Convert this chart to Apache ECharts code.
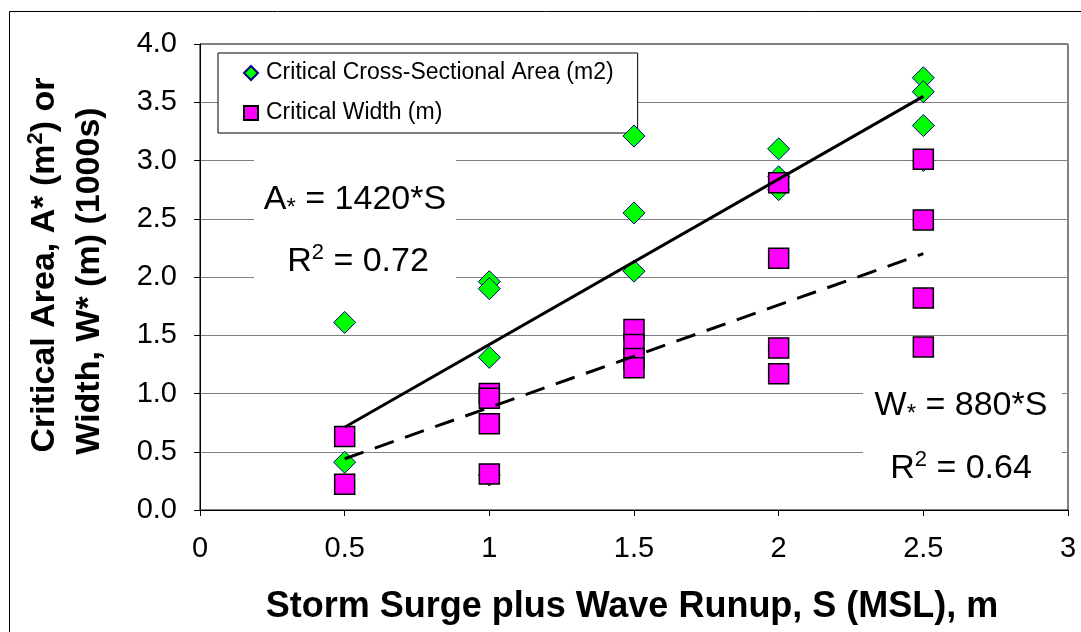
<!DOCTYPE html>
<html>
<head>
<meta charset="utf-8">
<script src="https://cdn.jsdelivr.net/npm/echarts@6/dist/echarts.min.js"></script>
<style>
  html, body { margin: 0; padding: 0; background: #fff; }
  #chart { width: 1081px; height: 632px; }
</style>
</head>
<body>
<div id="chart"></div>
<script>
// Storm surge plus wave runup S (m) against critical area / width, values in 1000s
const areaS = [0.5, 0.5, 1, 1, 1, 1, 1.5, 1.5, 1.5, 2, 2, 2, 2.5, 2.5, 2.5, 2.5];
const areaK = [1.61, 0.41, 1.96, 1.90, 1.31, 0.30, 3.21, 2.55, 2.05, 3.10, 2.86, 2.75, 3.71, 3.59, 3.30, 3.00];
const widthS = [0.5, 0.5, 1, 1, 1, 1, 1.5, 1.5, 1.5, 1.5, 2, 2, 2, 2, 2.5, 2.5, 2.5, 2.5];
const widthK = [0.63, 0.22, 1.00, 0.96, 0.74, 0.31, 1.55, 1.42, 1.30, 1.22, 2.81, 2.16, 1.39, 1.17, 3.01, 2.49, 1.82, 1.40];

// Fits through the origin (per metre of S) and their R^2
const areaSlope = 1420, areaR2 = 0.72;
const widthSlope = 880, widthR2 = 0.64;
const fitRange = [0.5, 2.5];

const seriesNames = ['Critical Cross-Sectional Area (m2)', 'Critical Width (m)'];
const xTicks = { min: 0, max: 3, step: 0.5 };
const yTicks = { min: 0, max: 4, step: 0.5 };

const FONT = '"Liberation Sans", Arial, sans-serif';

const pairs = (xs, ys) => xs.map((x, i) => [x, ys[i]]);
const fitLine = slope => fitRange.map(s => [s, slope * s / 1000]);

const chart = echarts.init(document.getElementById('chart'), null, { renderer: 'canvas' });

// main text, lowered asterisk, raised exponent
const eqRich = {
  m: { fontSize: 34, fontFamily: FONT, lineHeight: 40, fill: '#000' },
  s: { fontSize: 24, fontFamily: FONT, lineHeight: 12, verticalAlign: 'bottom', fill: '#000' },
  p: { fontSize: 22, fontFamily: FONT, lineHeight: 22, verticalAlign: 'top', fill: '#000' }
};
const titleRich = {
  b: { fontSize: 34, fontWeight: 'bold', fontFamily: FONT, lineHeight: 40, fill: '#000' },
  p: { fontSize: 22, fontWeight: 'bold', fontFamily: FONT, lineHeight: 22, verticalAlign: 'top', fill: '#000' }
};

chart.setOption({
  animation: false,
  backgroundColor: '#fff',
  textStyle: { fontFamily: FONT },
  grid: {
    left: 200, right: 13, top: 44, bottom: 122,
    show: true, borderColor: '#000', borderWidth: 1, backgroundColor: '#fff'
  },
  legend: {
    orient: 'vertical',
    left: 218, top: 53,
    padding: [7, 24, 7, 25],
    itemGap: 14,
    itemWidth: 14, itemHeight: 14,
    backgroundColor: '#fff',
    borderColor: '#000', borderWidth: 1, borderRadius: 0,
    textStyle: { fontSize: 23, lineHeight: 26, color: '#000', fontFamily: FONT, padding: [0, 0, 0, 3] },
    data: [
      { name: seriesNames[0], icon: 'diamond' },
      { name: seriesNames[1], icon: 'rect' }
    ]
  },
  xAxis: {
    type: 'value',
    min: xTicks.min, max: xTicks.max, interval: xTicks.step,
    axisLine: { show: true, onZero: false, lineStyle: { color: '#000', width: 1 } },
    axisTick: { show: true, inside: false, length: 6, lineStyle: { color: '#000' } },
    axisLabel: { fontSize: 29, color: '#000', margin: 24, fontFamily: FONT },
    splitLine: { show: false }
  },
  yAxis: {
    type: 'value',
    min: yTicks.min, max: yTicks.max, interval: yTicks.step,
    axisLine: { show: true, onZero: false, lineStyle: { color: '#000', width: 1 } },
    axisTick: { show: true, inside: false, length: 6, lineStyle: { color: '#000' } },
    axisLabel: { fontSize: 29, color: '#000', margin: 23, fontFamily: FONT,
                 formatter: v => v.toFixed(1) },
    splitLine: { show: true, lineStyle: { color: '#808080', width: 1 } }
  },
  graphic: [
    // outer chart frame
    { type: 'rect', z: 0, silent: true,
      shape: { x: 9.5, y: 11.5, width: 1200, height: 1000 },
      style: { fill: 'none', stroke: '#000', lineWidth: 1 } },
    // white boxes behind the fit equations
    { type: 'rect', z: 1, silent: true,
      shape: { x: 254, y: 150, width: 202, height: 145 },
      style: { fill: '#fff' } },
    { type: 'rect', z: 1, silent: true,
      shape: { x: 863, y: 384, width: 199, height: 116 },
      style: { fill: '#fff' } },
    { type: 'text', z: 3, x: 355, y: 200,
      style: { text: '{m|A}{s|*}{m| = ' + areaSlope + '*S}', rich: eqRich,
               align: 'center', verticalAlign: 'middle' } },
    { type: 'text', z: 3, x: 358, y: 262,
      style: { text: '{m|R}{p|2}{m| = ' + areaR2.toFixed(2) + '}', rich: eqRich,
               align: 'center', verticalAlign: 'middle' } },
    { type: 'text', z: 3, x: 961, y: 406,
      style: { text: '{m|W}{s|*}{m| = ' + widthSlope + '*S}', rich: eqRich,
               align: 'center', verticalAlign: 'middle' } },
    { type: 'text', z: 3, x: 961, y: 469,
      style: { text: '{m|R}{p|2}{m| = ' + widthR2.toFixed(2) + '}', rich: eqRich,
               align: 'center', verticalAlign: 'middle' } },
    // axis titles
    { type: 'text', z: 3, x: 632, y: 607,
      style: { text: 'Storm Surge plus Wave Runup, S (MSL), m', font: 'bold 36px ' + FONT,
               fill: '#000', align: 'center', verticalAlign: 'middle' } },
    { type: 'text', z: 3, x: 45, y: 265, rotation: Math.PI / 2,
      style: { text: '{b|Critical Area, A* (m}{p|2}{b|) or}', rich: titleRich,
               align: 'center', verticalAlign: 'middle' } },
    { type: 'text', z: 3, x: 90, y: 281, rotation: Math.PI / 2,
      style: { text: '{b|Width, W* (m) (1000s)}', rich: titleRich,
               align: 'center', verticalAlign: 'middle' } }
  ],
  series: [
    {
      name: seriesNames[0], type: 'scatter', z: 4,
      symbol: 'diamond', symbolSize: 22,
      itemStyle: { color: '#00FF00', borderColor: '#000080', borderWidth: 1, opacity: 1 },
      data: pairs(areaS, areaK)
    },
    {
      name: seriesNames[1], type: 'scatter', z: 5,
      symbol: 'rect', symbolSize: 20,
      itemStyle: { color: '#FF00FF', borderColor: '#000000', borderWidth: 1.5, opacity: 1 },
      data: pairs(widthS, widthK)
    },
    {
      name: 'A fit', type: 'line', z: 6, symbol: 'none', silent: true,
      lineStyle: { color: '#000', width: 3, type: 'solid' },
      data: fitLine(areaSlope)
    },
    {
      name: 'W fit', type: 'line', z: 6, symbol: 'none', silent: true,
      lineStyle: { color: '#000', width: 3, type: [20, 12] },
      data: fitLine(widthSlope)
    }
  ]
});
</script>
</body>
</html>
